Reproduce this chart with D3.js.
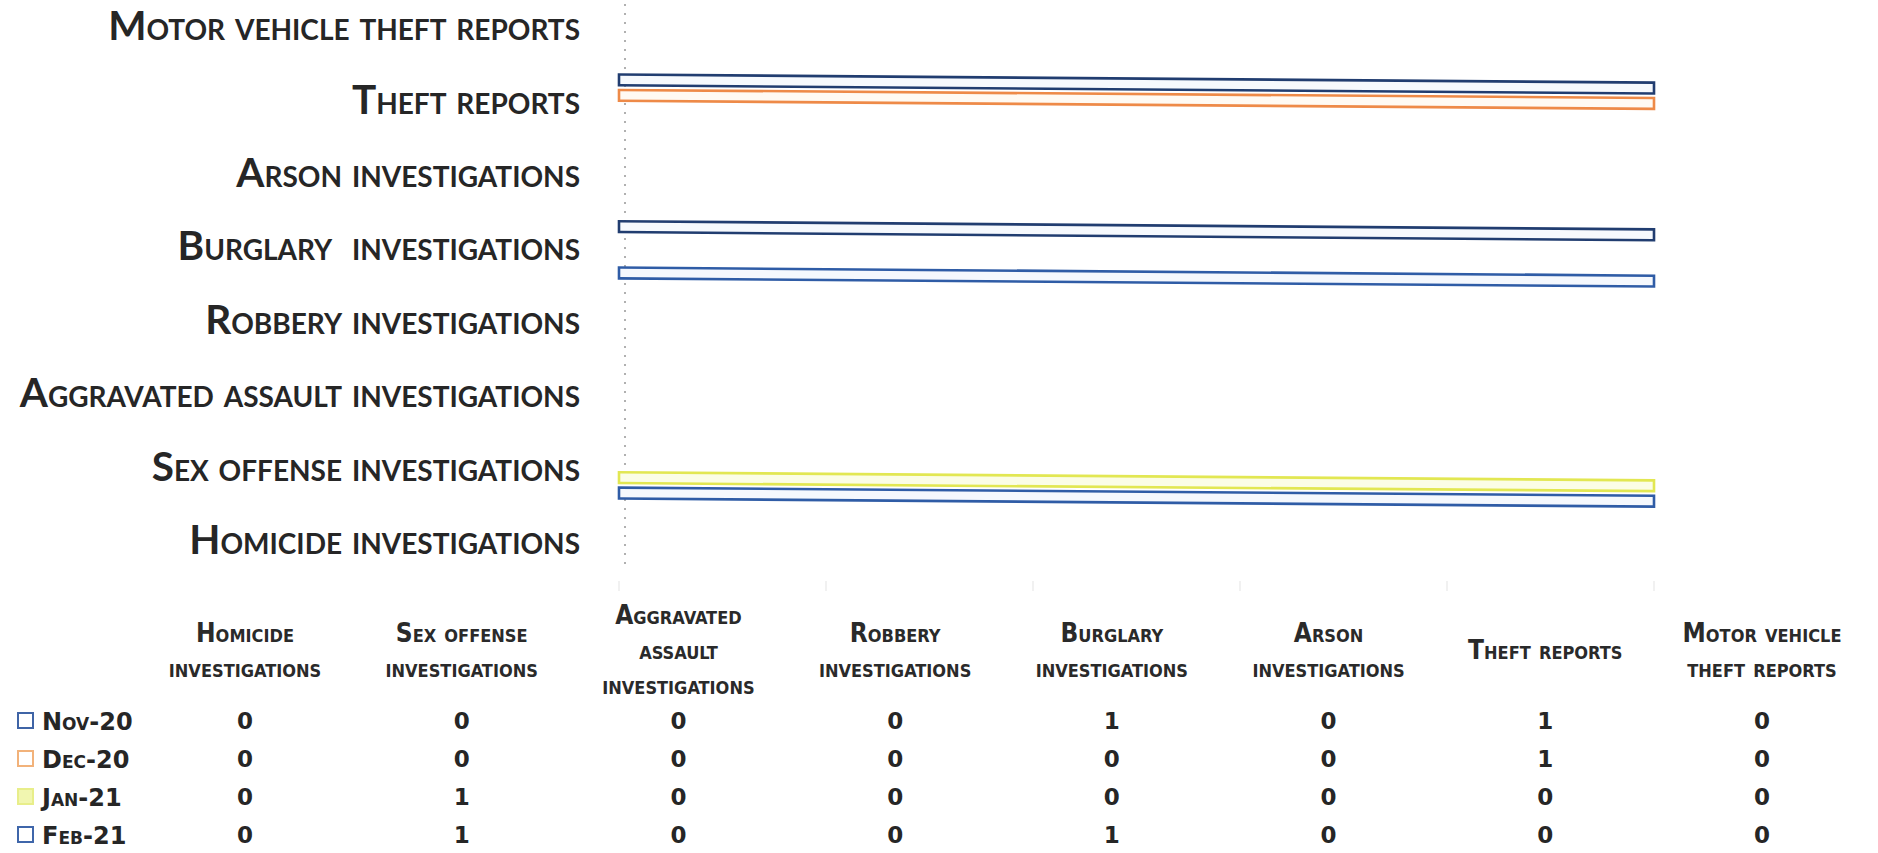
<!DOCTYPE html>
<html>
<head>
<meta charset="utf-8">
<script src="https://cdn.jsdelivr.net/npm/d3@7"></script>
<style>
  html, body { margin: 0; padding: 0; background: #fff; }
  svg { display: block; }
</style>
</head>
<body>
<svg id="chart" width="1878" height="853"></svg>
<script>
// Categories in data-table order (first category sits at the bottom of the bar chart)
const categories = [
  "Homicide investigations",
  "Sex offense investigations",
  "Aggravated assault investigations",
  "Robbery investigations",
  "Burglary  investigations",
  "Arson investigations",
  "Theft reports",
  "Motor vehicle theft reports"
];
// Column headings of the data table, split into lines
const headerLines = [
  ["Homicide", "investigations"],
  ["Sex offense", "investigations"],
  ["Aggravated", "assault", "investigations"],
  ["Robbery", "investigations"],
  ["Burglary", "investigations"],
  ["Arson", "investigations"],
  ["Theft reports"],
  ["Motor vehicle", "theft reports"]
];
const seriesNames = ["Nov-20", "Dec-20", "Jan-21", "Feb-21"];
const nov20 = [0, 0, 0, 0, 1, 0, 1, 0];
const dec20 = [0, 0, 0, 0, 0, 0, 1, 0];
const jan21 = [0, 1, 0, 0, 0, 0, 0, 0];
const feb21 = [0, 1, 0, 0, 1, 0, 0, 0];
const xTicks = [0, 0.2, 0.4, 0.6, 0.8, 1];

const seriesValues = [nov20, dec20, jan21, feb21];
const strokeColors = ["#213d70", "#ee8a48", "#e2e752", "#2f5ca6"];
const fillColors   = ["#f6f9fd", "#fffaf3", "#fbfde6", "#f5f8fd"];

const svg = d3.select("#chart");

// ---- bar chart ----
const x = d3.scaleLinear().domain([0, 1]).range([619, 1654]);
const y = d3.scaleBand()
  .domain(categories.slice().reverse())
  .range([-11, 576])
  .paddingInner(0.18)
  .paddingOuter(0.09);
const ySeries = d3.scaleBand()
  .domain(seriesNames)
  .range([0, y.bandwidth()])
  .paddingInner(0.3)
  .paddingOuter(0.1);

// vertical category axis (faint dotted)
svg.append("line")
  .attr("x1", x(0) + 6).attr("x2", x(0) + 6)
  .attr("y1", 4).attr("y2", 565)
  .attr("stroke", "#a8a8a8")
  .attr("stroke-width", 1.8)
  .attr("stroke-dasharray", "2,7");

// faint tick marks along the bottom of the plot
svg.append("g").selectAll("line")
  .data(xTicks)
  .join("line")
  .attr("x1", d => x(d)).attr("x2", d => x(d))
  .attr("y1", 581).attr("y2", 591)
  .attr("stroke", "#ececec")
  .attr("stroke-width", 1.5);

// bar area, drawn with a slight downward tilt to the right
const plot = svg.append("g")
  .attr("transform", `translate(${x(0)},4) skewY(0.45) translate(${-x(0)},0)`);

const groups = plot.selectAll("g")
  .data(categories)
  .join("g")
  .attr("transform", d => `translate(0,${y(d)})`);

groups.selectAll("rect")
  .data((c, ci) => seriesNames.map((s, si) => ({ s, si, v: seriesValues[si][ci] })))
  .join("rect")
  .attr("x", x(0))
  .attr("y", d => ySeries(d.s))
  .attr("width", d => x(d.v) - x(0))
  .attr("height", ySeries.bandwidth())
  .attr("fill", d => fillColors[d.si])
  .attr("stroke", d => strokeColors[d.si])
  .attr("stroke-width", 2.6);

// category labels
svg.append("g").selectAll("text")
  .data(categories)
  .join("text")
  .attr("x", 580)
  .attr("y", d => y(d) + y.bandwidth() / 2)
  .attr("dy", "0.36em")
  .attr("text-anchor", "end")
  .attr("font-family", "Lato, 'Open Sans', sans-serif")
  .attr("font-weight", 700)
  .attr("font-size", 40.5)
  .style("font-variant", "small-caps")
  .attr("fill", "#262626")
  .attr("xml:space", "preserve")
  .style("white-space", "pre")
  .text(d => d);

// ---- data table ----
const col = d3.scalePoint().domain(categories).range([245, 1762]);
const headerCenter = 650, headerLine = 35;
const headerFont = "'DejaVu Sans Condensed', 'DejaVu Sans', sans-serif";

const heads = svg.append("g").selectAll("text")
  .data(categories)
  .join("text")
  .attr("text-anchor", "middle")
  .attr("font-family", headerFont)
  .style("font-stretch", "condensed")
  .attr("font-weight", 700)
  .attr("font-size", 26)
  .style("font-variant", "small-caps")
  .attr("fill", "#2a2a2a");
heads.each(function (c, i) {
  const lines = headerLines[i];
  const top = headerCenter - (lines.length - 1) * headerLine / 2;
  d3.select(this).selectAll("tspan")
    .data(lines)
    .join("tspan")
    .attr("x", col(c))
    .attr("y", (l, li) => top + li * headerLine)
    .attr("dy", "0.36em")
    .text(l => l);
});

const rowY = d3.scalePoint().domain(seriesNames).range([721, 835]);

// legend keys
svg.append("g").selectAll("rect")
  .data(seriesNames)
  .join("rect")
  .attr("x", 18)
  .attr("y", d => rowY(d) - 8)
  .attr("width", 15)
  .attr("height", 15)
  .attr("fill", (d, i) => i === 2 ? "#f1f6b0" : "#fff")
  .attr("stroke", (d, i) => ["#3f64a6", "#f2b27a", "#e8ee8a", "#3f66aa"][i])
  .attr("stroke-width", 2);

// row labels
svg.append("g").selectAll("text")
  .data(seriesNames)
  .join("text")
  .attr("x", 42)
  .attr("y", d => rowY(d))
  .attr("dy", "0.36em")
  .attr("font-family", "'DejaVu Sans', sans-serif")
  .attr("font-weight", 700)
  .attr("font-size", 24)
  .style("font-variant", "small-caps")
  .attr("fill", "#262626")
  .text(d => d);

// table values
seriesNames.forEach((s, si) => {
  svg.append("g").selectAll("text")
    .data(categories)
    .join("text")
    .attr("x", c => col(c))
    .attr("y", rowY(s))
    .attr("dy", "0.36em")
    .attr("text-anchor", "middle")
    .attr("font-family", "'DejaVu Sans', sans-serif")
    .attr("font-weight", 700)
    .attr("font-size", 23)
    .attr("fill", "#262626")
    .text((c, ci) => seriesValues[si][ci]);
});
</script>
</body>
</html>
